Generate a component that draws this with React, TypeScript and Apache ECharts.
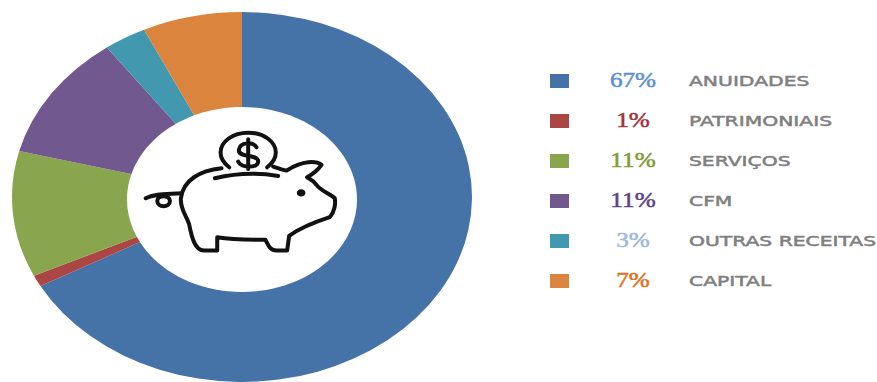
import React, { useEffect, useRef } from "react";
import * as echarts from "echarts";

// Revenue share by source
const categories = ["ANUIDADES", "PATRIMONIAIS", "SERVIÇOS", "CFM", "OUTRAS RECEITAS", "CAPITAL"];
const shares = [67, 1, 11, 11, 3, 7];
const sliceColors = ["#4572a7", "#aa4643", "#89a54e", "#71588f", "#4198af", "#db843d"];
const shareColors = ["#5a8fd6", "#9e3335", "#7f9c35", "#5b4288", "#9db9dc", "#e0701a"];
const rowCentres = [81, 121, 161, 201, 241, 281];

// Piggy bank outline, drawn at three times its final size
const pigBody =
  "M365,205 C300,212 250,240 243,295 C240,330 262,350 268,375 C275,410 285,452 312,452 L352,452 L352,412 " +
  "C400,420 450,420 497,420 C505,435 510,452 530,452 L562,452 L568,408 C600,385 650,365 690,352 " +
  "C705,335 708,310 705,295 C690,280 665,275 650,255 C640,240 625,235 622,232 C640,222 655,210 665,195 " +
  "C650,183 610,180 560,212 C550,210 535,205 520,200";
const pigSlot = "M345,235 Q440,212 535,228";
const pigTail = "M137,295 C165,280 200,283 245,280 M210,303 C210,324 172,324 172,303 C172,284 210,284 210,303";
const coinRim = "M388,202 C372,190 362,175 362,158 C362,125 399,98 445,98 C491,98 528,125 528,158 C528,175 518,190 502,202";
const dollar = "M470,142 C460,125 420,125 417,150 C415,175 475,160 475,185 C475,205 425,205 415,185 M445,118 L445,207";

["pigBody", "pigSlot", "pigTail", "coinRim", "dollar"].forEach((name, i) => {
  const d = [pigBody, pigSlot, pigTail, coinRim, dollar][i];
  echarts.graphic.registerShape(name, echarts.graphic.extendPath(d, {}));
});

const CX = 242;
const CY = 197;
const RX = 230;
const RY = 185;

export default function App() {
  const ref = useRef<HTMLDivElement>(null);

  useEffect(() => {
    const chart = echarts.init(ref.current!, undefined, { renderer: "svg" });
    const total = shares.reduce((a, b) => a + b, 0);

    const renderItem = (params: any, api: any) => {
      const before = shares.slice(0, params.dataIndex).reduce((a, b) => a + b, 0);
      const start = -Math.PI / 2 + (before / total) * Math.PI * 2;
      const end = start + (api.value(0) / total) * Math.PI * 2;
      return {
        type: "group",
        x: CX,
        y: CY,
        scaleY: RY / RX,
        children: [
          {
            type: "sector",
            shape: { cx: 0, cy: 0, r: RX, r0: RX * 0.45, startAngle: start, endAngle: end, clockwise: true },
            style: { fill: sliceColors[params.dataIndex] },
          },
        ],
      };
    };

    const pigStroke = { fill: "none", stroke: "#111111", lineWidth: 12, lineCap: "round", lineJoin: "round" };
    const pigParts = ["pigBody", "pigSlot", "pigTail", "coinRim", "dollar"].map((type) => ({
      type,
      z: 11,
      style: pigStroke,
    }));

    const legendRows = categories.flatMap((name, i) => [
      {
        type: "rect",
        shape: { x: 550, y: rowCentres[i] - 7, width: 19, height: 14 },
        style: { fill: sliceColors[i] },
      },
      {
        type: "text",
        x: 633,
        y: rowCentres[i] - 1,
        scaleX: 1.2,
        style: {
          text: `${shares[i]}%`,
          font: "21px 'Liberation Serif'",
          fill: shareColors[i],
          stroke: shareColors[i],
          lineWidth: 0.5,
          align: "center",
          verticalAlign: "middle",
        },
      },
      {
        type: "text",
        x: 689,
        y: rowCentres[i],
        scaleX: 1.45,
        style: {
          text: name,
          font: "14px 'DejaVu Sans'",
          fill: "#7f7f7f",
          stroke: "#7f7f7f",
          lineWidth: 0.5,
          align: "left",
          verticalAlign: "middle",
        },
      },
    ]);

    chart.setOption({
      animation: false,
      backgroundColor: "#ffffff",
      series: [
        {
          type: "custom",
          coordinateSystem: "none",
          clip: false,
          silent: true,
          data: shares.map((value, i) => ({ name: categories[i], value: [value] })),
          renderItem,
        },
      ],
      graphic: [
        {
          type: "ellipse",
          z: 10,
          shape: { cx: 242, cy: 199.5, rx: 115, ry: 92.5 },
          style: { fill: "#ffffff" },
        },
        {
          type: "group",
          x: 100,
          y: 100,
          scaleX: 1 / 3,
          scaleY: 1 / 3,
          children: [
            ...pigParts,
            { type: "ellipse", z: 11, shape: { cx: 604, cy: 279, rx: 13, ry: 11 }, style: { fill: "#111111" } },
          ],
        },
        ...legendRows,
      ],
    });

    return () => chart.dispose();
  }, []);

  return <div ref={ref} style={{ position: "fixed", left: 0, top: 0, width: 877, height: 382 }} />;
}
